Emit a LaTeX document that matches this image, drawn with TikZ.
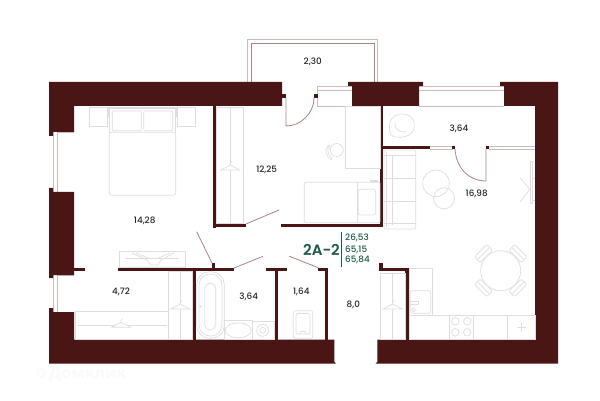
\documentclass[tikz,border=0pt]{standalone}
\usepackage{fontspec}
\setmainfont{Poppins Medium}[BoldFont={Poppins SemiBold}]
\newfontfamily\markfont{Open Sans}
\usepackage{tikz}
\definecolor{wallred}{HTML}{4A1515}
\definecolor{leafred}{HTML}{A58787}
\definecolor{glassred}{HTML}{CDBBBB}
\definecolor{fittings}{HTML}{DEDEDE}
\definecolor{titlegreen}{HTML}{1B5B48}

\begin{document}
\begin{tikzpicture}[x=1pt,y=-1pt]

\tikzstyle{wall}=[fill=wallred]
\tikzstyle{leaf}=[draw=leafred,line width=0.8pt]
\tikzstyle{glass}=[draw=glassred,line width=0.8pt]
\tikzstyle{fitting}=[draw=fittings,line width=0.7pt]
\tikzstyle{area}=[text=black!85,font=\fontsize{8.8}{10}\selectfont,inner sep=0pt]
\tikzstyle{share}=[text=titlegreen,font=\fontsize{8.8}{10}\selectfont,anchor=west,inner sep=0pt]

\useasboundingbox (0,0) rectangle (600,401);
\fill[white] (0,0) rectangle (600,401);

% balcony and windows
\draw[glass] (247.5,82) -- (247.5,39.5) -- (377.5,39.5) -- (377.5,82);
\draw[leaf,line width=0.6pt] (251,82) -- (251,43.5) -- (374,43.5) -- (374,82);
\draw[glass] (317.5,86) rectangle (352,106);
\draw[glass] (317.5,90) -- (352,90);
\draw[glass] (419,86) -- (504,86) (419,90) -- (504,90) (419,106) -- (504,106);
\draw[glass] (53.5,132) -- (53.5,192) (57,132) -- (57,192) (57,132) -- (74,132) (57,192) -- (74,192);
\draw[glass] (53.5,275) -- (53.5,312) (57,275) -- (57,312) (57,275) -- (74,275) (57,312) -- (74,312);
\draw[glass] (430,146.5) -- (453,146.5) (430,149.3) -- (453,149.3);
\draw[glass] (489,146.5) -- (535,146.5) (489,149.3) -- (535,149.3);

% outer walls
\fill[wall] (49,82) -- (282,82) -- (282,106) -- (74,106) -- (74,132) -- (53,132) -- (53,136) -- (49,136) -- cycle;
\fill[wall] (282,94) rectangle (286,98);
\fill[wall] (313.5,94) rectangle (317.5,98);
\fill[wall] (49,188) -- (53,188) -- (53,192) -- (74,192) -- (74,275) -- (53,275) -- (53,278) -- (49,278) -- cycle;
\fill[wall] (49,308) -- (53,308) -- (53,312) -- (74,312) -- (74,339.5) -- (334.3,339.5) -- (334.3,362) -- (336,363.5) -- (49,363.5) -- cycle;
\fill[wall] (348,82) -- (423,82) -- (423,86) -- (419,86) -- (419,106) -- (352,106) -- (352,86) -- (348,86) -- cycle;
\fill[wall] (500,82) -- (558,82) -- (558,363.5) -- (375.5,363.5) -- (377.3,362) -- (377.3,339.5) -- (535,339.5) -- (535,106) -- (504,106) -- (504,86) -- (500,86) -- cycle;

% inner walls
\fill[wall] (212.7,106) rectangle (215.7,228);
\fill[wall] (212.7,224) rectangle (245.7,227.3);
\fill[wall] (280.7,224) rectangle (383,227.3);
\fill[wall] (380,106) rectangle (383,227.3);
\fill[wall] (383,146.3) rectangle (430,149.4);
\fill[wall] (452,146.3) rectangle (455,149.4);
\fill[wall] (486,146.3) rectangle (489.3,149.4);
\fill[wall] (74,267.7) rectangle (85,271.3);
\fill[wall] (117.7,267.7) rectangle (234,271.3);
\fill[wall] (212,263) rectangle (215.3,268);
\fill[wall] (193,271) rectangle (196,339.5);
\fill[wall] (265.7,267.7) rectangle (287.3,271.3);
\fill[wall] (274.7,271) rectangle (278,339.5);
\fill[wall] (318.3,267.7) rectangle (328.3,271.3);
\fill[wall] (325.3,271) rectangle (328.3,339.5);
\fill[wall] (379.3,263.3) rectangle (383,268);
\fill[wall] (379.3,267.7) rectangle (408.7,271.3);
\fill[wall] (405,271) rectangle (408.7,339.5);

% doors
\draw[leaf] (286,98) -- (286,126) .. controls (301,126) and (314,113) .. (314,98);
\draw[leaf] (455,149) .. controls (456,167) and (468,181) .. (486,181) -- (486,149);
\draw[leaf] (246,224) -- (279,210);
\draw[leaf] (212,263) -- (196.7,231.7);
\draw[leaf] (234,268) -- (263,256.3);
\draw[leaf] (318.3,267.7) -- (289.3,256.3);

% bedroom
\draw[fitting] (89.3,107) rectangle (107.7,126.7);
\draw[fitting] (177.3,107) rectangle (195.7,126.7);
\draw[fitting,line width=1.4pt] (107.7,108) -- (177.3,108);
\draw[fitting,fill=fittings] (107.7,107) rectangle (109.5,116);
\draw[fitting,fill=fittings] (175.5,107) rectangle (177.3,116);
\draw[fitting,rounded corners=1pt] (112.3,111) rectangle (141.3,130.7);
\draw[fitting,rounded corners=1pt] (143.7,111) rectangle (172.7,130.7);
\draw[fitting,rounded corners=2pt] (109.3,132.3) rectangle (175.7,195.3);
\draw[fitting] (109.3,116) -- (109.3,133) (175.7,116) -- (175.7,133);
\draw[fitting] (119.3,251.3) rectangle (185.3,267.3);
\draw[fitting] (125,258.3) -- (179,258.3);
\draw[fitting] (132,253) -- (147,260) -- (151,265) -- (158,265) -- (161,260) -- (174,253);
\draw[fitting] (136,253) -- (149,258.3) (170,253) -- (158,258.3);

% wardrobes
\draw[fitting] (216,107) rectangle (243.3,223.3);
\draw[fitting] (230.3,107) -- (230.3,223.3);
\draw[fitting] (75,311.7) rectangle (168.3,339);
\draw[fitting] (77,325.3) -- (167,325.3);
\draw[fitting] (168.3,271.7) rectangle (192.7,339);
\draw[fitting] (180.3,272) -- (180.3,339);
\draw[fitting] (380.7,273.3) rectangle (405,339);
\draw[fitting] (392.7,273.3) -- (392.7,339);
\foreach \hx/\hy in {230.3/166,121/323.3,180.3/305,392.7/305}{
  \draw[fitting,fill=white] (\hx-9.5,\hy+4) -- (\hx,\hy-1) -- (\hx+9.5,\hy+4) -- cycle;
  \draw[fitting] (\hx,\hy-1) -- (\hx,\hy-3) -- (\hx+1.5,\hy-4.5);
}

% study
\draw[fitting] (345.3,106.7) rectangle (380,168.3);
\draw[fitting] (336.7,150) circle (6.5);
\draw[fitting] (330,145) .. controls (326,149) and (328,155) .. (332,158);
\draw[fitting] (328,146) .. controls (324,150) and (326,156) .. (331,160);
\draw[fitting] (332,158) -- (331,160) (330,145) -- (328,146);
\draw[fitting,rounded corners=1pt] (304.3,182.3) rectangle (380,222.7);
\draw[fitting] (357.7,182.3) -- (357.7,222.7);
\draw[fitting,rounded corners=2pt] (358.3,189.3) rectangle (375.7,215);
\draw[fitting,line width=1.4pt] (370,181) -- (378,181);

% living room
\draw[fitting,rounded corners=1pt] (384,150) rectangle (415.7,229);
\draw[fitting] (392.7,155) -- (392.7,225);
\draw[fitting] (384,155) -- (415.7,155) (384,223) -- (415.7,223);
\draw[fitting] (386.5,152) -- (386.5,227);
\draw[fitting] (384,178.3) -- (415.7,178.3) (384,201.7) -- (415.7,201.7);
\draw[fitting] (436,183.3) circle (13.3);
\draw[fitting] (444,198.3) circle (10.5);
\draw[fitting] (401.7,114) .. controls (414,114) and (416,124) .. (413,131) .. controls (409,138) and (396,139) .. (391,135) .. controls (388,128) and (388,115) .. (401.7,114) -- cycle;
\draw[fitting] (395,123) .. controls (394,130) and (400,132) .. (406,132);
\draw[fitting] (530.3,161) rectangle (532.7,203);
\draw[fitting] (520,177.7) -- (530,189.3) -- (520,201.7);
\draw[fitting] (532.7,178) -- (534.5,178) (532.7,200) -- (534.5,200);
\draw[fitting] (500.7,270.7) circle (20);
\foreach \chairangle in {45,135,225,315}{
  \draw[fitting,rounded corners=2pt,rotate around={\chairangle:(500.7,270.7)}] (521,262) rectangle (529,279.5);
  \draw[fitting,rotate around={\chairangle:(500.7,270.7)}] (525,262.5) -- (525,279);
}

% kitchen
\draw[fitting] (409,268.7) rectangle (432.7,315.3);
\draw[fitting,rounded corners=2pt] (410.3,290.7) rectangle (430.7,313.3);
\draw[fitting] (410,301.7) -- (418,301.7) -- (418,304) -- (410,304);
\draw[fitting] (413.5,310) circle (1.8);
\draw[fitting] (409,315.3) rectangle (535,339);
\draw[fitting] (449.3,315.3) -- (449.3,339) (473.7,315.3) -- (473.7,339) (507.7,315.3) -- (507.7,339);
\foreach \hobx/\hoby in {455.3/321.3,467.3/321.3,455.3/332.3,467.3/332.3}{
  \draw[fitting] (\hobx,\hoby) circle (3.8);
}
\draw[fitting] (517,327.3) -- (526,327.3) (521.3,323) -- (521.3,332);

% bathroom
\draw[fitting,rounded corners=13pt] (196.7,271.7) rectangle (224.3,338.3);
\draw[fitting,rounded corners=5pt] (204.7,283.3) rectangle (215.7,330);
\draw[fitting,rounded corners=11pt] (199,274) rectangle (222,336);
\draw[fitting] (200.5,306.5) circle (1);
\draw[fitting] (224.3,320.7) rectangle (252.3,339.3);
\draw[fitting] (238.3,330.3) ellipse (13 and 7.5);
\draw[fitting] (252.3,321.7) rectangle (274.3,339.3);
\draw[fitting] (262.7,330.3) circle (6);
\draw[fitting] (262.7,330.3) circle (3);
\draw[fitting,rounded corners=2pt] (293.3,310.7) rectangle (312.7,338.3);
\draw[fitting,rounded corners=2pt] (296,313.5) rectangle (310,334);
\draw[fitting] (300,334) -- (301,331.5) -- (305,331.5) -- (306,334);

% areas
\node[area] (balconyarea) at (312.7,62.3) {2,30};
\node[area] (studyarea) at (266.7,170) {12,25};
\node[area] (bedarea) at (144.7,221) {14,28};
\node[area] (loggiaarea) at (459,128.7) {3,64};
\node[area] (livingarea) at (476.7,194.3) {16,98};
\node[area] (closetarea) at (121,291.7) {4,72};
\node[area] (bathroomarea) at (248.7,297) {3,64};
\node[area] (toiletarea) at (301.3,291.7) {1,64};
\node[area] (hallarea) at (353.3,305.3) {8,0};

% title
\node[text=titlegreen,font=\fontsize{15}{16}\selectfont\bfseries,inner sep=0pt] (flattype) at (321.5,249.5) {2A-2};
\draw[titlegreen,line width=0.9pt] (341.3,231.7) -- (341.3,267.3);
\node[share] (livingshare) at (345,238) {26,53};
\node[share] (usefulshare) at (345,249.6) {65,15};
\node[share] (totalshare) at (345,260.3) {65,84};

% watermark
\node[font=\markfont\fontsize{16}{18}\selectfont\bfseries,text=black!2,anchor=west,inner sep=0pt] (watermark) at (49,374) {Домклик};
\draw[black!2,line width=1.5pt] (41,373) circle (4);

\end{tikzpicture}
\end{document}
